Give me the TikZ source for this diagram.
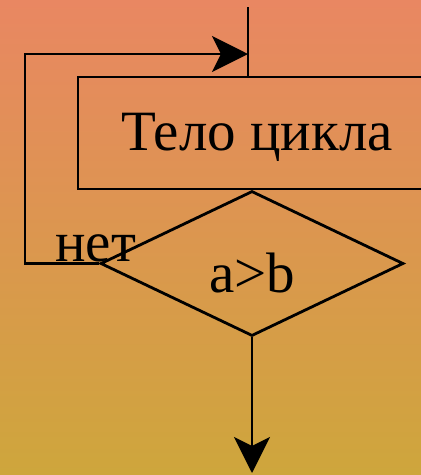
\documentclass[tikz,border=0pt]{standalone}
\usepackage{fontspec}
\setmainfont{Liberation Serif}
\usetikzlibrary{shapes.geometric,arrows.meta}
\definecolor{bgtop}{RGB}{233,135,98}
\definecolor{bgbot}{RGB}{206,166,60}
\tikzset{
  ln/.style={line width=2.8pt, black},
  arr/.style={ln, -{Stealth[length=36pt,width=36pt,inset=9pt]}},
  lbl/.style={font=\fontsize{57}{60}\selectfont, inner sep=0pt, anchor=base},
}
\begin{document}
\begin{tikzpicture}[x=1pt,y=-1pt]
\useasboundingbox (0,0) rectangle (421,475);
\shade[top color=bgtop,bottom color=bgbot] (0,0) rectangle (421,475);
\clip (0,0) rectangle (421,475);
% body rectangle (extends past right edge)
\node[ln, draw, rectangle, minimum width=380pt, minimum height=112pt, inner sep=0pt] (body) at (268,133) {};
\node[lbl] (bodytxt) at (257,150) {Тело цикла};
% decision diamond
\node[ln, draw, diamond, minimum width=303pt, minimum height=145pt, inner sep=0pt] (dia) at (252,263.5) {};
\node[lbl] (cond) at (252,292) {a>b};
\node[lbl, anchor=base west] (no) at (55,261) {нет};
% coordinates
\coordinate (top) at (248,7);
\coordinate (lc) at (25,54);
\coordinate (outp) at (252,473);
% connectors
\draw[ln] (top) -- (top |- body.north);
\draw[arr] (dia.west) -| (lc) -- (top |- lc);
\draw[arr] (dia.south) -- (outp);
\end{tikzpicture}
\end{document}
